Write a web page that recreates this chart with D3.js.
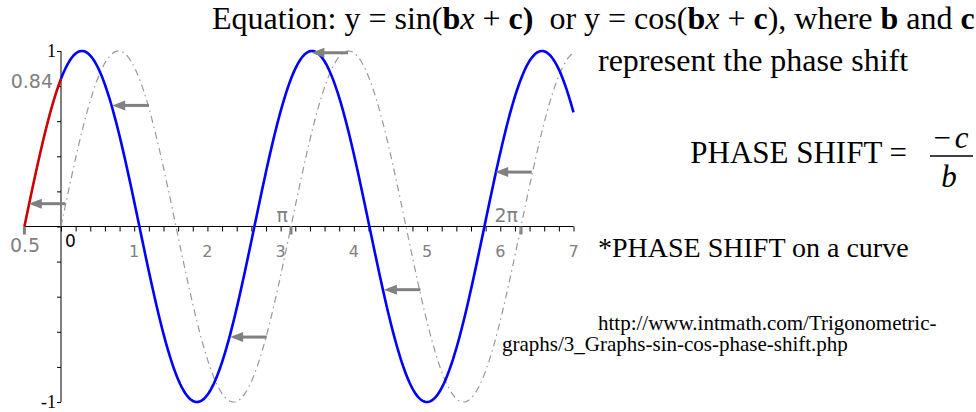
<!DOCTYPE html>
<html>
<head>
<meta charset="utf-8">
<script src="https://cdn.jsdelivr.net/npm/d3@7"></script>
<style>
  body { margin: 0; background: #fff; }
  svg { display: block; }
</style>
</head>
<body>
<div id="chart"></div>
<script>
// curve parameters: y = sin(b*x + c)
const shifted = { b: 2, c: 1 };      // blue / red curve
const original = { b: 2, c: 0 };     // dashed grey curve
const redDomain = [-0.5, 0];
const blueDomain = [0, 7];
const dashDomain = [0, 7];

// arrows: tip x on the shifted curve, y level, shift length
const arrowTipX = [-0.44, 0.70, 2.31, 3.42, 4.41, 5.93];
const arrowY = [0.13, 0.69, -0.63, 0.99, -0.36, 0.31];
const arrowShift = 0.5;

const xTickLabels = ["1", "2", "3", "4", "5", "6", "7"];
const piMarks = [Math.PI, 2 * Math.PI];
const piLabels = ["π", "2π"];

const width = 976, height = 412;
const x = d3.scaleLinear().domain([0, 7]).range([61, 573.5]);
const y = d3.scaleLinear().domain([-1, 1]).range([402, 51]);

const svg = d3.select("#chart").append("svg")
  .attr("width", width)
  .attr("height", height);

const grey = "#808080";

// x axis
svg.append("line")
  .attr("x1", x(-0.5)).attr("x2", x(7))
  .attr("y1", y(0)).attr("y2", y(0))
  .attr("stroke", "#000");

const xAxis = svg.append("g")
  .attr("transform", `translate(0,${y(0)})`)
  .call(d3.axisBottom(x).tickValues(d3.range(0, 35.5).map(i => i * 0.2)).tickSize(5).tickFormat(""));
xAxis.select(".domain").remove();
xAxis.selectAll("line").attr("stroke", "#000");

// y axis
svg.append("line")
  .attr("x1", x(0)).attr("x2", x(0))
  .attr("y1", y(1)).attr("y2", y(-1))
  .attr("stroke", "#000");

const yAxis = svg.append("g")
  .attr("transform", `translate(${x(0)},0)`)
  .call(d3.axisLeft(y).tickValues(d3.range(-5, 5.5).map(i => i * 0.2)).tickSize(4).tickFormat(""));
yAxis.select(".domain").remove();
yAxis.selectAll("line").attr("stroke", "#000");

// x tick labels
svg.selectAll(".xlab")
  .data(xTickLabels)
  .join("text")
  .attr("x", d => x(+d))
  .attr("y", 257)
  .attr("text-anchor", "middle")
  .attr("font-family", "DejaVu Sans")
  .attr("font-size", 16)
  .attr("fill", grey)
  .text(d => d);

svg.append("text")
  .attr("x", x(0) + 4).attr("y", 247)
  .attr("font-family", "DejaVu Sans").attr("font-size", 17)
  .attr("fill", "#000").text("0");

// y labels
svg.append("text")
  .attr("x", 56).attr("y", y(1) + 6)
  .attr("text-anchor", "end")
  .attr("font-family", "Liberation Serif").attr("font-size", 18)
  .text("1");
svg.append("text")
  .attr("x", 56).attr("y", y(-1) + 6)
  .attr("text-anchor", "end")
  .attr("font-family", "Liberation Serif").attr("font-size", 18)
  .text("-1");

svg.append("text")
  .attr("x", 53).attr("y", 88)
  .attr("text-anchor", "end")
  .attr("font-family", "DejaVu Sans").attr("font-size", 19)
  .attr("fill", grey).text("0.84");

svg.append("text")
  .attr("x", 25).attr("y", 252)
  .attr("text-anchor", "middle")
  .attr("font-family", "DejaVu Sans").attr("font-size", 19)
  .attr("fill", grey).text("0.5");

// thick grey marks at -0.5, pi, 2pi
svg.selectAll(".mark")
  .data([-0.5, ...piMarks])
  .join("line")
  .attr("x1", d => x(d)).attr("x2", d => x(d))
  .attr("y1", y(0)).attr("y2", y(0) + 8)
  .attr("stroke", grey)
  .attr("stroke-width", 3);

svg.selectAll(".pilab")
  .data(piMarks)
  .join("text")
  .attr("x", d => x(d) - 3)
  .attr("y", 222)
  .attr("text-anchor", "end")
  .attr("font-family", "DejaVu Sans")
  .attr("font-size", 19)
  .attr("fill", grey)
  .text((d, i) => piLabels[i]);

// curves
const sample = (dom, p) => d3.range(0, 401).map(i => {
  const xv = dom[0] + (dom[1] - dom[0]) * i / 400;
  return [xv, Math.sin(p.b * xv + p.c)];
});
const line = d3.line().x(d => x(d[0])).y(d => y(d[1]));

svg.append("path")
  .attr("d", line(sample(dashDomain, original)))
  .attr("fill", "none")
  .attr("stroke", "#999")
  .attr("stroke-width", 1.2)
  .attr("stroke-dasharray", "7,4,1.5,4");

svg.append("path")
  .attr("d", line(sample(redDomain, shifted)))
  .attr("fill", "none")
  .attr("stroke", "#cc0000")
  .attr("stroke-width", 2.6);

svg.append("path")
  .attr("d", line(sample(blueDomain, shifted)))
  .attr("fill", "none")
  .attr("stroke", "#0000ff")
  .attr("stroke-width", 2.6);

// arrows
const arrows = svg.append("g").attr("fill", grey).attr("stroke", grey);
arrowTipX.forEach((tx, i) => {
  const px = x(tx), py = y(arrowY[i]), tail = x(tx + arrowShift);
  arrows.append("line")
    .attr("x1", px + 10).attr("x2", tail)
    .attr("y1", py).attr("y2", py)
    .attr("stroke-width", 3);
  arrows.append("path")
    .attr("d", `M${px},${py} L${px + 13},${py - 5} L${px + 13},${py + 5} Z`)
    .attr("stroke", "none");
});

// text on the right
const serif = "Liberation Serif";
const eq = svg.append("text")
  .attr("x", 212).attr("y", 29)
  .attr("font-family", serif).attr("font-size", 32);
[["Equation: y = sin(", ""], ["b", "b"], ["x", "i"], [" + ", ""], ["c", "b"], [")", "b"],
 ["  or y = cos(", ""], ["b", "b"], ["x", "i"], [" + ", ""], ["c", "b"], ["), where ", ""],
 ["b", "b"], [" and ", ""], ["c", "b"]].forEach(([t, s]) => {
  eq.append("tspan")
    .attr("font-weight", s === "b" ? "bold" : null)
    .attr("font-style", s === "i" ? "italic" : null)
    .style("white-space", "pre")
    .text(t);
});

svg.append("text")
  .attr("x", 598).attr("y", 71)
  .attr("font-family", serif).attr("font-size", 32)
  .text("represent the phase shift");

svg.append("text")
  .attr("x", 907).attr("y", 163)
  .attr("text-anchor", "end")
  .attr("font-family", serif).attr("font-size", 31)
  .text("PHASE SHIFT =");

svg.append("text")
  .attr("x", 951).attr("y", 148)
  .attr("text-anchor", "middle")
  .attr("font-family", serif).attr("font-size", 31)
  .html('−<tspan dx="4" font-style="italic">c</tspan>');
svg.append("line")
  .attr("x1", 930).attr("x2", 973)
  .attr("y1", 156).attr("y2", 156)
  .attr("stroke", "#000").attr("stroke-width", 1.5);
svg.append("text")
  .attr("x", 949).attr("y", 187)
  .attr("text-anchor", "middle")
  .attr("font-family", serif).attr("font-size", 31).attr("font-style", "italic")
  .text("b");

svg.append("text")
  .attr("x", 598).attr("y", 257)
  .attr("font-family", serif).attr("font-size", 28)
  .text("*PHASE SHIFT on a curve");

svg.append("text")
  .attr("x", 598).attr("y", 330)
  .attr("font-family", serif).attr("font-size", 21)
  .text("http://www.intmath.com/Trigonometric-");
svg.append("text")
  .attr("x", 502).attr("y", 351)
  .attr("font-family", serif).attr("font-size", 21)
  .text("graphs/3_Graphs-sin-cos-phase-shift.php");
</script>
</body>
</html>
